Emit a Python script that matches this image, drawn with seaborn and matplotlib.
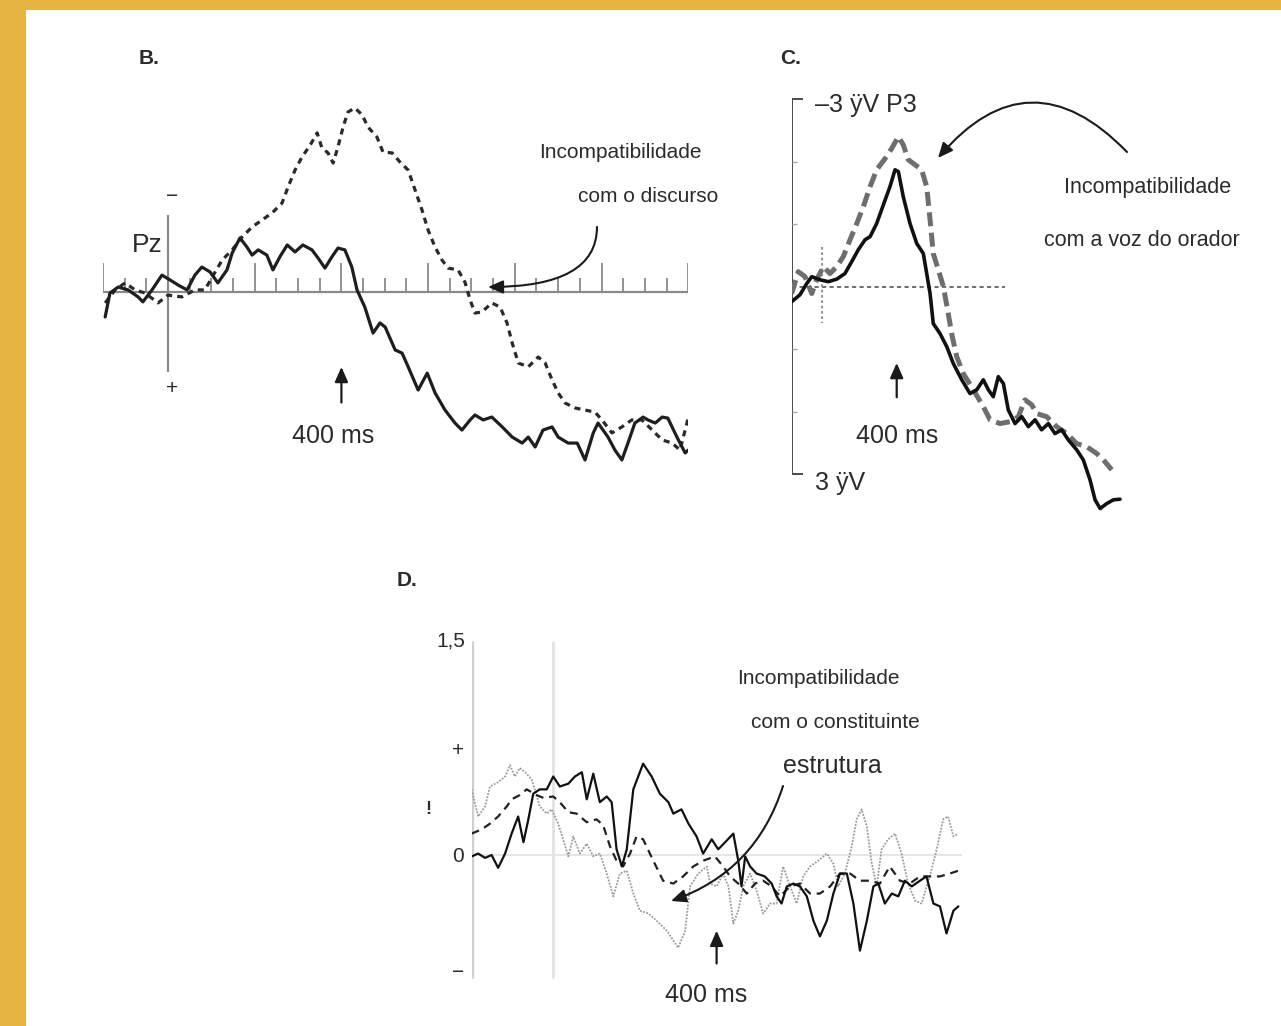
import numpy as np
import matplotlib
matplotlib.use("Agg")
import matplotlib.pyplot as plt
import seaborn as sns
from matplotlib.patches import FancyArrowPatch, Rectangle, ArrowStyle

# ---------------- data (time in ms, amplitude in uV) ----------------
# Panel B (Pz)
b_t_solid = [-145,-134,-115,-92,-69,-58,-37,-14,5,23,44,62,78,97,115,136,148,166,182,194,
             208,228,242,258,275,293,311,332,346,362,378,392,408,424,436,454,473,489,501,524,
             540,554,577,598,616,639,662,678,697,708,727,747,771,794,817,831,847,865,886,900,
             923,944,962,981,992,1015,1031,1047,1061,1077,1096,1107,1124,1140,1153,1174,1193,1200]
b_v_solid = [0.96,0.04,-0.19,-0.08,0.19,0.38,-0.08,-0.65,-0.46,-0.27,-0.08,-0.65,-0.96,-0.77,-0.35,-0.85,-1.5,-2.08,-1.73,-1.42,
             -1.62,-1.42,-0.85,-1.35,-1.81,-1.54,-1.81,-1.62,-1.31,-0.92,-1.35,-1.69,-1.62,-0.96,-0.08,0.58,1.58,1.19,1.35,2.23,
             2.35,2.88,3.77,3.12,3.88,4.54,5.04,5.31,4.92,4.73,4.92,4.81,5.19,5.58,5.81,5.58,5.96,5.31,5.19,5.58,
             5.81,5.81,6.46,5.42,5.04,5.58,6.08,6.46,5.81,5.04,4.81,4.92,5.04,4.81,4.85,5.58,6.19,6.08]
b_t_dash = [-145,-122,-99,-76,-53,-23,0,32,62,85,102,125,148,171,194,217,240,263,277,293,
            309,328,344,355,369,381,392,404,415,431,448,461,482,496,517,535,554,570,586,600,
            616,632,646,669,685,697,708,724,747,766,782,794,808,831,854,870,886,900,916,939,
            962,985,1001,1024,1047,1070,1093,1117,1140,1163,1181,1193,1200]
b_v_dash = [0.42,-0.08,-0.35,-0.08,0.04,0.42,0.12,0.19,-0.08,-0.08,-0.58,-1.23,-1.62,-2.12,-2.5,-2.77,-3.04,-3.42,-4.04,-4.69,
            -5.19,-5.65,-6.12,-5.54,-5.35,-4.96,-5.58,-6.35,-6.92,-7.08,-6.81,-6.35,-5.96,-5.38,-5.35,-5.0,-4.69,-3.92,-3.15,-2.38,
            -1.73,-1.23,-0.92,-0.85,-0.38,0.31,0.81,0.77,0.42,0.58,1.19,1.96,2.73,2.88,2.5,2.73,3.38,3.88,4.27,4.46,
            4.54,4.62,4.92,5.42,5.19,4.92,4.92,5.31,5.69,5.81,6.08,5.31,4.85]

# Panel C (P3)
c_t_solid = [-160,-116,-80,-53,-9,35,80,124,160,195,231,258,293,329,364,391,409,435,471,507,
             542,560,578,595,631,667,702,747,791,827,862,889,915,942,969,995,1031,1067,1102,1138,
             1173,1209,1244,1280,1315,1360,1395,1431,1458,1485,1520,1556,1591]
c_v_solid = [0.24,0.13,-0.05,-0.16,-0.11,-0.08,-0.12,-0.21,-0.4,-0.59,-0.75,-0.8,-1.01,-1.31,-1.6,-1.87,-1.84,-1.44,-1.01,-0.69,
             -0.53,-0.21,0.11,0.59,0.75,0.96,1.23,1.49,1.71,1.65,1.49,1.65,1.76,1.44,1.55,1.97,2.19,2.08,2.24,2.13,
             2.29,2.19,2.35,2.29,2.45,2.61,2.77,3.09,3.41,3.55,3.47,3.41,3.4]
c_t_dash = [-160,-125,-89,-53,-27,9,44,80,115,151,187,222,258,293,338,373,409,435,462,498,
            533,560,578,595,622,649,675,693,720,755,809,862,898,951,1004,1049,1084,1120,1147,1200,
            1253,1307,1360,1413,1467,1502,1547]
c_v_dash = [0.11,-0.24,-0.16,0.11,-0.11,-0.32,-0.21,-0.32,-0.48,-0.75,-1.01,-1.28,-1.6,-1.87,-2.05,-2.21,-2.4,-2.27,-2.03,-1.95,
            -1.87,-1.6,-1.07,-0.53,-0.27,0,0.43,0.75,1.12,1.39,1.65,1.92,2.13,2.19,2.16,2.08,1.81,1.89,2.03,2.08,
            2.24,2.35,2.51,2.56,2.67,2.77,2.93]

# Panel D
d_t_solid = [-200,-184,-167,-151,-135,-118,-102,-86,-73,-61,-49,-33,-16,0,16,37,53,70,82,98,
             114,131,143,155,168,180,196,220,241,261,282,294,314,331,351,367,388,404,421,441,
             453,461,470,482,498,518,535,547,559,572,588,604,621,637,653,670,686,702,719,735,
             751,768,784,796,812,829,845,861,878,898,914,931,947,963,980,992]
d_v_solid = [-0.01,0.01,-0.02,0,-0.09,0.01,0.15,0.27,0.09,0.25,0.43,0.46,0.46,0.55,0.48,0.5,0.55,0.58,0.39,0.57,
             0.37,0.41,0.37,0.04,-0.08,0.04,0.46,0.64,0.55,0.43,0.37,0.29,0.32,0.22,0.13,0.01,0.11,0.04,0.09,0.15,
             -0.04,-0.22,-0.01,-0.08,-0.13,-0.15,-0.2,-0.29,-0.34,-0.22,-0.2,-0.22,-0.29,-0.46,-0.57,-0.46,-0.27,-0.13,-0.13,-0.34,
             -0.67,-0.46,-0.22,-0.2,-0.34,-0.27,-0.29,-0.18,-0.22,-0.18,-0.15,-0.34,-0.36,-0.55,-0.39,-0.36]
d_t_dash = [-200,-175,-155,-135,-114,-102,-82,-65,-41,-24,0,16,37,57,82,106,122,139,155,171,
            188,204,220,245,269,294,318,343,367,396,416,433,453,474,494,514,535,555,580,604,
            629,653,678,702,727,751,775,800,824,849,873,898,922,947,971,992]
d_v_dash = [0.15,0.18,0.22,0.27,0.34,0.39,0.42,0.46,0.42,0.4,0.41,0.37,0.3,0.29,0.23,0.25,0.21,0.06,-0.04,-0.08,
            0.01,0.13,0.11,-0.04,-0.18,-0.2,-0.15,-0.08,-0.04,-0.01,-0.08,-0.15,-0.2,-0.27,-0.2,-0.18,-0.22,-0.29,-0.22,-0.2,
            -0.27,-0.27,-0.22,-0.13,-0.13,-0.18,-0.18,-0.2,-0.08,-0.18,-0.2,-0.15,-0.15,-0.15,-0.13,-0.11]
d_t_dot = [-200,-184,-167,-155,-135,-118,-106,-94,-82,-69,-53,-41,-33,-16,-4,12,24,37,49,65,
           82,98,114,131,147,163,180,196,212,233,253,278,306,323,335,355,376,384,400,416,
           429,441,453,465,482,498,514,531,547,563,580,596,612,629,649,670,686,698,714,731,
           743,755,768,780,792,804,820,837,853,869,886,902,922,939,955,967,980,992]
d_v_dot = [0.46,0.27,0.34,0.48,0.51,0.55,0.63,0.55,0.61,0.58,0.53,0.42,0.34,0.29,0.32,0.22,0.11,-0.01,0.13,0.01,
           0.08,-0.01,0.01,-0.13,-0.29,-0.13,-0.11,-0.27,-0.39,-0.41,-0.46,-0.53,-0.65,-0.53,-0.22,-0.13,-0.08,-0.2,-0.22,-0.13,
           -0.22,-0.48,-0.39,-0.22,-0.13,-0.25,-0.41,-0.34,-0.34,-0.08,-0.22,-0.34,-0.15,-0.08,-0.04,0.01,-0.06,-0.22,-0.13,0.06,
           0.25,0.32,0.2,-0.06,-0.22,0.04,0.11,0.15,0.01,-0.2,-0.32,-0.34,-0.15,0.04,0.25,0.27,0.13,0.15]

# texts
panel_labels = ["B.", "C.", "D."]
b_texts = ["Incompatibilidade", "com o discurso"]
c_texts = ["Incompatibilidade", "com a voz do orador"]
d_texts = ["Incompatibilidade", "com o constituinte"]
d_word = "estrutura"
c_top_label = "\u20133 \u00ffV P3"
c_bot_label = "3 \u00ffV"
d_tick_labels = ["1,5", "+", "0", "\u2212"]
onset_label = "400 ms"
onset_ms = 400

# ---------------- figure ----------------
W, H = 1281, 1026
sns.set_theme(style="white")
plt.rcParams['font.family'] = ['Liberation Sans', 'DejaVu Sans']
TXT = '#2b2b2b'

fig = plt.figure(figsize=(W / 100, H / 100), dpi=100, facecolor='#E6B444')
fig.add_artist(Rectangle((26 / W, 0), 1 - 26 / W, 1 - 10 / H, transform=fig.transFigure,
                         facecolor='white', edgecolor='none', zorder=0))


def P(x, y):
    return (x / W, 1 - y / H)


def T(x, y, s, size, ha='center', va='center', **kw):
    fig.text(x / W, 1 - y / H, s, fontsize=size, ha=ha, va=va, color=kw.pop('color', TXT), **kw)


def make_ax(x0, x1, y0, y1, xlim, ylim):
    ax = fig.add_axes([x0 / W, 1 - y1 / H, (x1 - x0) / W, (y1 - y0) / H])
    ax.set_xlim(*xlim)
    ax.set_ylim(*ylim)
    ax.axis('off')
    ax.patch.set_alpha(0)
    return ax


def wave(ax, t, v, **kw):
    sns.lineplot(x=t, y=v, ax=ax, estimator=None, sort=False, legend=False, **kw)


def curved(a, b, cs, lw=1.5):
    arr = FancyArrowPatch(P(*a), P(*b), transform=fig.transFigure, connectionstyle=cs,
                          arrowstyle=ArrowStyle('-|>', head_length=0.5, head_width=0.22),
                          mutation_scale=18, lw=lw, color='#1a1a1a', shrinkA=0, shrinkB=0)
    fig.add_artist(arr)


head = dict(arrowstyle=ArrowStyle('-|>', head_length=0.5, head_width=0.22), mutation_scale=18,
            lw=1.6, color='#1a1a1a', shrinkA=0, shrinkB=0)

# ---------------- Panel B ----------------
axB = make_ax(103, 688.2, 97, 474, (-150, 1200), (7.0, -7.5))
axB.hlines(0, -150, 1200, color='#8a8a8a', lw=1.6, zorder=1)
axB.vlines(0, -2.96, 3.08, color='#8a8a8a', lw=1.6, zorder=1)
tick_t = np.arange(-150, 1201, 50)
tall = [-150, 200, 400, 600, 800, 1000, 1200]
for tt in tick_t:
    if tt == 0:
        continue
    axB.vlines(tt, 0, -1.12 if tt in tall else -0.55, color='#8a8a8a', lw=1.3, zorder=1)
wave(axB, b_t_dash, b_v_dash, color='#2a2a2a', lw=2.3, linestyle=(0, (1.9, 1.6)), zorder=3)
wave(axB, b_t_solid, b_v_solid, color='#1e1e1e', lw=2.3, zorder=4)
axB.annotate('', xy=(onset_ms, 2.88), xytext=(onset_ms, 4.25), arrowprops=head)
T(149, 59, panel_labels[0], 15, weight='bold')
T(147, 245, "Pz", 19)
T(172, 196, "\u2212", 15)
T(172, 389, "+", 15)
T(333, 436, onset_label, 18)
T(620, 152, b_texts[0], 15)
T(648, 197, b_texts[1], 15)
curved((597, 227), (488, 287), "angle3,angleA=90,angleB=0")

# ---------------- Panel C ----------------
axC = make_ax(791.7, 1121.7, 67.9, 524.2, (-160, 1600), (3.8, -3.5))
axC.vlines(-160, -3, 3, color='#4a4a4a', lw=1.4, zorder=1)
axC.hlines([-3, 3], -160, -100, color='#4a4a4a', lw=1.4, zorder=1)
axC.hlines([-2, -1, 1, 2], -160, -133, color='#aaaaaa', lw=1.0, zorder=1)
axC.hlines(0, -160, 980, color='#555555', lw=1.2, linestyle=(0, (2.5, 2)), zorder=1)
axC.vlines(0, -0.63, 0.58, color='#999999', lw=1.6, linestyle=(0, (1.2, 1.2)), zorder=1)
wave(axC, c_t_dash, c_v_dash, color='#6e6e6e', lw=3.6, linestyle=(0, (2.8, 1.3)), zorder=3)
wave(axC, c_t_solid, c_v_solid, color='#111111', lw=2.6, zorder=4)
axC.annotate('', xy=(onset_ms, 1.22), xytext=(onset_ms, 1.77), arrowprops=head)
T(791, 59, panel_labels[1], 15, weight='bold')
T(815, 105, c_top_label, 18, ha='left')
T(815, 483, c_bot_label, 18, ha='left')
T(897, 436, onset_label, 18)
T(1148, 188, c_texts[0], 15.5)
T(1142, 240, c_texts[1], 15.5)
curved((1127, 152), (938, 158), "arc3,rad=0.55")

# ---------------- Panel D ----------------
axD = make_ax(471.6, 961.6, 633.8, 990.6, (-200, 1000), (-0.95, 1.55))
axD.vlines(-200, -0.86, 1.5, color='#cfcfcf', lw=2.4, zorder=1)
axD.vlines(0, -0.86, 1.5, color='#e2e2e2', lw=2.0, zorder=1)
axD.hlines(0, -200, 1000, color='#e4e4e4', lw=1.3, zorder=1)
wave(axD, d_t_dot, d_v_dot, color='#9a9a9a', lw=1.3, linestyle=(0, (1, 0.8)), zorder=2)
wave(axD, d_t_dash, d_v_dash, color='#222222', lw=1.6, linestyle=(0, (3.6, 2.6)), zorder=3)
wave(axD, d_t_solid, d_v_solid, color='#111111', lw=1.6, zorder=4)
axD.annotate('', xy=(onset_ms, -0.53), xytext=(onset_ms, -0.76), arrowprops=head)
T(407, 580, panel_labels[2], 15, weight='bold')
T(465, 641, d_tick_labels[0], 15, ha='right')
T(458, 750, d_tick_labels[1], 15)
T(458, 857, d_tick_labels[2], 15)
T(458, 972, d_tick_labels[3], 15)
T(428, 810, "!", 13, weight='bold')
T(818, 679, d_texts[0], 15)
T(835, 723, d_texts[1], 15)
T(832, 766, d_word, 18)
T(706, 995, onset_label, 18)
curved((783, 786), (671, 901), "arc3,rad=-0.25")

fig.savefig("out.png", dpi=100, facecolor=fig.get_facecolor())
